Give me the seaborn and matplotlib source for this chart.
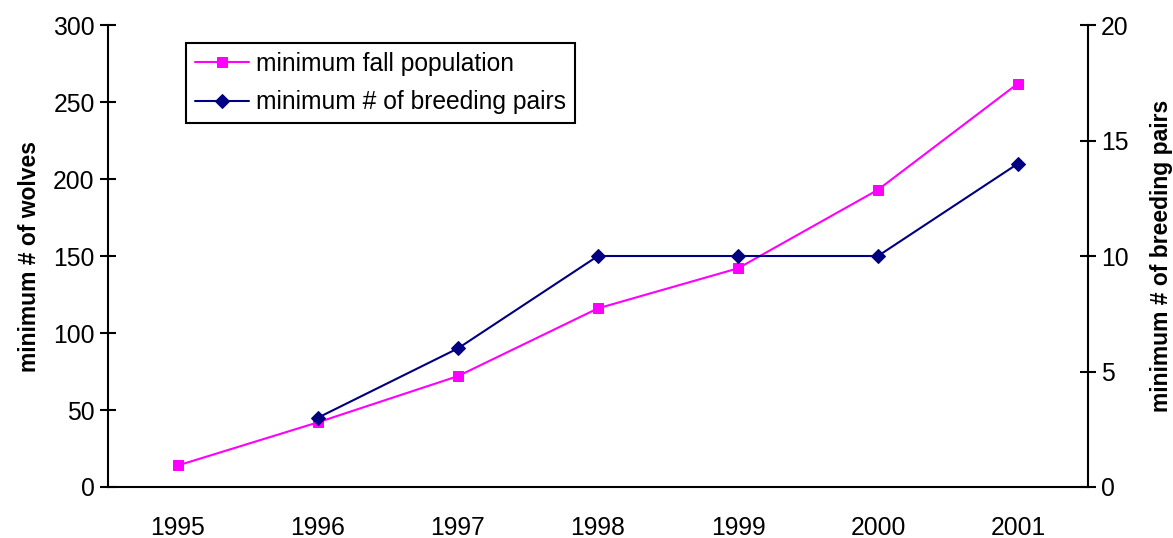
import matplotlib
matplotlib.use('Agg')
import matplotlib.pyplot as plt
import seaborn as sns
import pandas as pd

# Datos
years = [1995, 1996, 1997, 1998, 1999, 2000, 2001]
fall_population = [14, 42, 72, 116, 142, 193, 262]
pair_years = [1996, 1997, 1998, 1999, 2000, 2001]
breeding_pairs = [3, 6, 10, 10, 10, 14]

sns.set_style("white")
plt.rcParams['font.family'] = ['Liberation Sans', 'DejaVu Sans']
plt.rcParams['font.size'] = 17.5
plt.rcParams['text.color'] = 'black'
plt.rcParams['axes.labelcolor'] = 'black'
plt.rcParams['xtick.color'] = 'black'
plt.rcParams['ytick.color'] = 'black'

pink = '#FF00FF'
navy = '#000080'

fig = plt.figure(figsize=(11.73, 5.38), dpi=100)
ax = fig.add_axes([0.092, 0.0948, 0.8355, 0.8587])
ax2 = ax.twinx()

df_pop = pd.DataFrame({'year': years, 'value': fall_population})
df_pairs = pd.DataFrame({'year': pair_years, 'value': breeding_pairs})

sns.lineplot(data=df_pop, x='year', y='value', ax=ax, color=pink, linewidth=1.5,
             marker='s', markersize=7, markeredgecolor=pink, markerfacecolor=pink,
             label='minimum fall population', legend=False)
sns.lineplot(data=df_pairs, x='year', y='value', ax=ax2, color=navy, linewidth=1.5,
             marker='D', markersize=7.5, markeredgecolor=navy, markerfacecolor=navy,
             label='minimum # of breeding pairs', legend=False)

ax.set_xlim(1994.5, 2001.5)
ax.set_ylim(0, 300)
ax2.set_ylim(0, 20)
ax.set_yticks(range(0, 301, 50))
ax2.set_yticks(range(0, 21, 5))
ax.set_xticks(years)
ax.set_xticks([y + 0.5 for y in years[:-1]], minor=True)

ax.set_xlabel('')
ax.set_ylabel('minimum # of wolves', fontsize=16.5, fontweight='bold', labelpad=9)
ax2.set_ylabel('minimum # of breeding pairs', fontsize=16.5, fontweight='bold', labelpad=15)

for a in (ax, ax2):
    a.spines['top'].set_visible(False)
    for s in ('left', 'right', 'bottom'):
        a.spines[s].set_color('black')
        a.spines[s].set_linewidth(1.5)
ax.spines['right'].set_visible(False)
ax2.spines['left'].set_visible(False)
ax2.spines['bottom'].set_visible(False)

ax.tick_params(axis='y', direction='inout', length=11, width=1.5, labelsize=17.8, pad=4)
ax2.tick_params(axis='y', direction='inout', length=11, width=1.5, labelsize=17.8, pad=4)
ax.tick_params(axis='x', which='major', length=0, labelsize=17.8, pad=21)
ax.tick_params(axis='x', which='minor', direction='inout', length=11, width=1.5)
ax.grid(False)
ax2.grid(False)

h1, l1 = ax.get_legend_handles_labels()
h2, l2 = ax2.get_legend_handles_labels()
leg = ax.legend(h1 + h2, l1 + l2, loc='upper left', bbox_to_anchor=(0.08, 0.961),
                borderaxespad=0, fancybox=False, edgecolor='black', framealpha=1,
                fontsize=17.7, handlelength=2.2, handletextpad=0.3,
                labelspacing=0.6, borderpad=0.35)
leg.get_frame().set_linewidth(1.5)
leg.set_zorder(10)

fig.savefig('out.png', dpi=100)
